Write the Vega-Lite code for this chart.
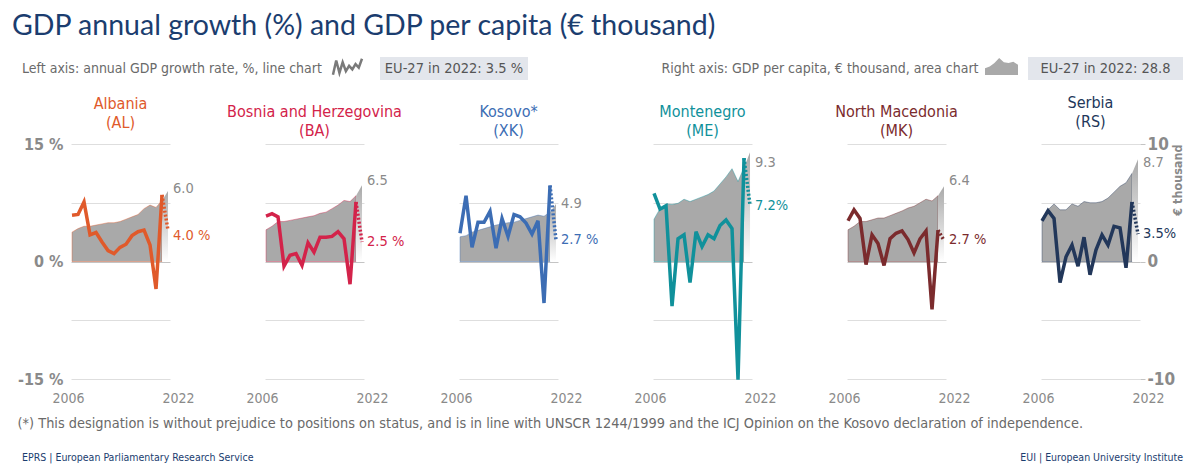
{
  "$schema": "https://vega.github.io/schema/vega-lite/v6.json",
  "padding": {"left": 12, "top": 12, "right": 6, "bottom": 4},
  "title": {"text": "GDP annual growth (%) and GDP per capita (€ thousand)", "anchor": "start", "fontSize": 28.5, "color": "#1b3d6f", "fontWeight": "normal", "font": "Lato", "dx": -59, "offset": 13},
  "config": {
    "font": "DejaVu Sans Condensed",
    "view": {"stroke": null},
    "text": {"font": "DejaVu Sans Condensed"},
    "axis": {"labelFont": "DejaVu Sans Condensed", "titleFont": "DejaVu Sans Condensed"},
    "title": {"font": "DejaVu Sans Condensed", "fontWeight": "normal", "fontSize": 16, "lineHeight": 19.5, "offset": 5, "frame": "group"}
  },
  "datasets": {
    "wig": [{"i":0,"v":1},{"i":1,"v":9},{"i":2,"v":2},{"i":3,"v":8},{"i":4,"v":3},{"i":5,"v":6},{"i":6,"v":4},{"i":7,"v":7},{"i":8,"v":5},{"i":9,"v":10}],
    "mnt": [{"i":0,"v":4},{"i":1,"v":5},{"i":2,"v":7},{"i":3,"v":10},{"i":4,"v":7.5},{"i":5,"v":7},{"i":6,"v":7.8},{"i":7,"v":6}],
    "gdp": [
      {"c":"AL","yr":2006,"g":5.9,"p":2.5},{"c":"AL","yr":2007,"g":6.0,"p":2.8},{"c":"AL","yr":2008,"g":7.6,"p":3.0},{"c":"AL","yr":2009,"g":3.4,"p":3.0},{"c":"AL","yr":2010,"g":3.7,"p":3.1},{"c":"AL","yr":2011,"g":2.5,"p":3.2},{"c":"AL","yr":2012,"g":1.4,"p":3.3},{"c":"AL","yr":2013,"g":1.0,"p":3.3},{"c":"AL","yr":2014,"g":1.8,"p":3.4},{"c":"AL","yr":2015,"g":2.2,"p":3.6},{"c":"AL","yr":2016,"g":3.3,"p":3.8},{"c":"AL","yr":2017,"g":3.8,"p":4.0},{"c":"AL","yr":2018,"g":4.0,"p":4.5},{"c":"AL","yr":2019,"g":2.1,"p":4.8},{"c":"AL","yr":2020,"g":-3.5,"p":4.6},{"c":"AL","yr":2021,"g":8.5,"p":5.2},{"c":"AL","yr":2022,"g":4.0,"p":6.0,"gl":"4.0 %","pl":"6.0"},
      {"c":"BA","yr":2006,"g":5.8,"p":2.7},{"c":"BA","yr":2007,"g":6.1,"p":3.0},{"c":"BA","yr":2008,"g":5.7,"p":3.4},{"c":"BA","yr":2009,"g":-0.6,"p":3.4},{"c":"BA","yr":2010,"g":0.8,"p":3.5},{"c":"BA","yr":2011,"g":1.0,"p":3.6},{"c":"BA","yr":2012,"g":-0.5,"p":3.7},{"c":"BA","yr":2013,"g":2.4,"p":3.8},{"c":"BA","yr":2014,"g":1.2,"p":3.9},{"c":"BA","yr":2015,"g":3.1,"p":4.1},{"c":"BA","yr":2016,"g":3.1,"p":4.2},{"c":"BA","yr":2017,"g":3.2,"p":4.5},{"c":"BA","yr":2018,"g":3.8,"p":4.8},{"c":"BA","yr":2019,"g":2.9,"p":5.2},{"c":"BA","yr":2020,"g":-2.9,"p":5.1},{"c":"BA","yr":2021,"g":7.6,"p":5.6},{"c":"BA","yr":2022,"g":2.5,"p":6.5,"gl":"2.5 %","pl":"6.5"},
      {"c":"XK","yr":2006,"g":3.6,"p":2.1},{"c":"XK","yr":2007,"g":8.4,"p":2.2},{"c":"XK","yr":2008,"g":1.8,"p":2.5},{"c":"XK","yr":2009,"g":5.0,"p":2.65},{"c":"XK","yr":2010,"g":5.0,"p":2.8},{"c":"XK","yr":2011,"g":6.4,"p":2.95},{"c":"XK","yr":2012,"g":1.7,"p":3.1},{"c":"XK","yr":2013,"g":5.5,"p":3.2},{"c":"XK","yr":2014,"g":3.2,"p":3.3},{"c":"XK","yr":2015,"g":6.0,"p":3.35},{"c":"XK","yr":2016,"g":5.7,"p":3.5},{"c":"XK","yr":2017,"g":4.9,"p":3.65},{"c":"XK","yr":2018,"g":3.5,"p":3.8},{"c":"XK","yr":2019,"g":5.2,"p":3.95},{"c":"XK","yr":2020,"g":-5.3,"p":3.85},{"c":"XK","yr":2021,"g":9.7,"p":4.2},{"c":"XK","yr":2022,"g":2.7,"p":4.9,"gl":"2.7 %","pl":"4.9"},
      {"c":"ME","yr":2006,"g":8.7,"p":3.6},{"c":"ME","yr":2007,"g":6.7,"p":4.5},{"c":"ME","yr":2008,"g":7.1,"p":4.9},{"c":"ME","yr":2009,"g":-5.7,"p":4.85},{"c":"ME","yr":2010,"g":2.9,"p":4.95},{"c":"ME","yr":2011,"g":3.4,"p":5.3},{"c":"ME","yr":2012,"g":-2.7,"p":5.1},{"c":"ME","yr":2013,"g":3.8,"p":5.3},{"c":"ME","yr":2014,"g":1.9,"p":5.5},{"c":"ME","yr":2015,"g":3.4,"p":5.7},{"c":"ME","yr":2016,"g":2.9,"p":6.0},{"c":"ME","yr":2017,"g":4.6,"p":6.6},{"c":"ME","yr":2018,"g":5.3,"p":7.2},{"c":"ME","yr":2019,"g":4.2,"p":7.9},{"c":"ME","yr":2020,"g":-15.1,"p":6.8},{"c":"ME","yr":2021,"g":13.2,"p":8.0},{"c":"ME","yr":2022,"g":7.2,"p":9.3,"gl":"7.2%","pl":"9.3"},
      {"c":"MK","yr":2006,"g":5.2,"p":2.7},{"c":"MK","yr":2007,"g":6.6,"p":3.0},{"c":"MK","yr":2008,"g":5.5,"p":3.4},{"c":"MK","yr":2009,"g":-0.4,"p":3.4},{"c":"MK","yr":2010,"g":3.4,"p":3.55},{"c":"MK","yr":2011,"g":2.3,"p":3.7},{"c":"MK","yr":2012,"g":-0.5,"p":3.7},{"c":"MK","yr":2013,"g":2.9,"p":3.9},{"c":"MK","yr":2014,"g":3.6,"p":4.1},{"c":"MK","yr":2015,"g":3.9,"p":4.3},{"c":"MK","yr":2016,"g":2.8,"p":4.55},{"c":"MK","yr":2017,"g":1.1,"p":4.7},{"c":"MK","yr":2018,"g":2.9,"p":5.0},{"c":"MK","yr":2019,"g":3.9,"p":5.3},{"c":"MK","yr":2020,"g":-6.1,"p":5.15},{"c":"MK","yr":2021,"g":4.0,"p":5.6},{"c":"MK","yr":2022,"g":2.7,"p":6.4,"gl":"2.7 %","pl":"6.4"},
      {"c":"RS","yr":2006,"g":5.2,"p":3.65},{"c":"RS","yr":2007,"g":6.5,"p":4.4},{"c":"RS","yr":2008,"g":5.5,"p":4.9},{"c":"RS","yr":2009,"g":-2.7,"p":4.4},{"c":"RS","yr":2010,"g":0.6,"p":4.4},{"c":"RS","yr":2011,"g":2.1,"p":4.9},{"c":"RS","yr":2012,"g":-0.6,"p":4.7},{"c":"RS","yr":2013,"g":3.1,"p":5.1},{"c":"RS","yr":2014,"g":-1.7,"p":5.0},{"c":"RS","yr":2015,"g":1.5,"p":5.0},{"c":"RS","yr":2016,"g":3.4,"p":5.1},{"c":"RS","yr":2017,"g":2.1,"p":5.4},{"c":"RS","yr":2018,"g":4.5,"p":5.9},{"c":"RS","yr":2019,"g":4.3,"p":6.4},{"c":"RS","yr":2020,"g":-0.8,"p":6.7},{"c":"RS","yr":2021,"g":7.6,"p":7.5},{"c":"RS","yr":2022,"g":3.5,"p":8.7,"gl":"3.5%","pl":"8.7"}
    ]
  },
  "vconcat": [
    {
      "hconcat": [
        {"width": 202, "height": 23, "data": {"values": [{"t": "Left axis: annual GDP growth rate, %, line chart"}]}, "mark": {"type": "text", "fontSize": 14, "color": "#6a6a6a"}, "encoding": {"text": {"field": "t"}}},
        {"width": 107, "height": 23, "data": {"name": "wig"}, "mark": {"type": "line", "color": "#7a7a7a", "strokeWidth": 2.5}, "encoding": {"x": {"field": "i", "type": "quantitative", "scale": {"domain": [-18.62, 14.59], "nice": false, "zero": false}, "axis": null}, "y": {"field": "v", "type": "quantitative", "scale": {"domain": [-2, 11], "nice": false}, "axis": null}}},
        {"width": 148, "height": 23, "view": {"fill": "#e3e6ec", "stroke": null}, "data": {"values": [{"t": "EU-27 in 2022: 3.5 %"}]}, "mark": {"type": "text", "fontSize": 14.5, "color": "#555555"}, "encoding": {"text": {"field": "t"}}},
        {"width": 127, "height": 23, "data": {"values": [{"t": ""}]}, "mark": {"type": "text"}, "encoding": {"text": {"field": "t"}}},
        {"width": 330, "height": 23, "data": {"values": [{"t": "Right axis: GDP per capita, € thousand, area chart"}]}, "mark": {"type": "text", "fontSize": 14, "color": "#6a6a6a"}, "encoding": {"text": {"field": "t"}}},
        {"width": 43, "height": 23, "data": {"name": "mnt"}, "mark": {"type": "area", "color": "#a9a9a9"}, "encoding": {"x": {"field": "i", "type": "quantitative", "scale": {"domain": [0, 9.12], "nice": false}, "axis": null}, "y": {"field": "v", "type": "quantitative", "scale": {"domain": [-2.94, 10.59], "nice": false}, "axis": null}}},
        {"width": 155, "height": 23, "view": {"fill": "#e3e6ec", "stroke": null}, "data": {"values": [{"t": "EU-27 in 2022: 28.8"}]}, "mark": {"type": "text", "fontSize": 14.5, "color": "#555555"}, "encoding": {"text": {"field": "t"}}}
      ],
      "spacing": 0,
      "bounds": "flush"
    },
    {
      "title": {"text": "(*) This designation is without prejudice to positions on status, and is in line with UNSCR 1244/1999 and the ICJ Opinion on the Kosovo declaration of independence.", "orient": "bottom", "anchor": "start", "frame": "bounds", "fontSize": 14.4, "lineHeight": 16, "color": "#6a6a6a", "offset": 12},
      "spacing": 95,
      "bounds": "flush",
      "hconcat": [
        {
          "width": 99, "height": 235,
          "title": {"text": ["Albania", "(AL)"], "color": "#e05a2b"},
          "data": {"name": "gdp"},
          "transform": [{"filter": "datum.c == 'AL'"}],
          "encoding": {"x": {"field": "yr", "type": "quantitative", "scale": {"domain": [2005.83, 2022.33], "nice": false, "zero": false}, "axis": {"values": [2006, 2022], "format": "d", "labelFontSize": 14, "labelColor": "#8a8a8a", "ticks": false, "domain": false, "grid": false, "title": null, "labelPadding": 12, "labelOffset": {"condition": {"test": "datum.value == 2022", "value": 10}, "value": -4}}}},
          "layer": [
            {"transform": [{"filter": "datum.yr <= 2021"}], "mark": {"type": "area", "fill": "#a9a9a9", "stroke": "#e05a2b", "strokeWidth": 0.8, "strokeOpacity": 0.5}, "encoding": {"y": {"field": "p", "type": "quantitative", "scale": {"domain": [-10, 10], "nice": false}, "axis": null}}},
            {"transform": [{"filter": "datum.yr >= 2021"}], "mark": {"type": "area", "fill": {"gradient": "linear", "x1": 0, "y1": 0, "x2": 0, "y2": 1, "stops": [{"offset": 0, "color": "#a9a9a9"}, {"offset": 1, "color": "#ffffff"}]}}, "encoding": {"y": {"field": "p", "type": "quantitative", "scale": {"domain": [-10, 10], "nice": false}, "axis": null}}},
            {"transform": [{"filter": "datum.yr <= 2021"}], "mark": {"type": "line", "color": "#e05a2b", "strokeWidth": 3.5}, "encoding": {"y": {"field": "g", "type": "quantitative", "scale": {"domain": [-15, 15], "nice": false}, "axis": {"orient": "left", "values": [-15, -7.5, 0, 7.5, 15], "labelExpr": "datum.value == 15 ? '15 %' : datum.value == 0 ? '0 %' : datum.value == -15 ? '-15 %' : ''", "grid": true, "gridColor": {"condition": {"test": "datum.value == 0", "value": "#c4c4c4"}, "value": "#dedede"}, "ticks": false, "domain": false, "labelFontSize": 16, "labelFontWeight": "bold", "labelColor": "#8a8a8a", "labelPadding": 8, "title": null}}}},
            {"transform": [{"filter": "datum.yr >= 2021"}], "mark": {"type": "line", "color": "#e05a2b", "strokeWidth": 3.5, "strokeDash": [2, 2]}, "encoding": {"y": {"field": "g", "type": "quantitative", "scale": {"domain": [-15, 15], "nice": false}, "axis": null}}},
            {"transform": [{"filter": "datum.yr == 2022"}], "mark": {"type": "text", "align": "left", "dx": 5, "dy": 6, "color": "#e05a2b", "fontSize": 14.5}, "encoding": {"y": {"field": "g", "type": "quantitative", "scale": {"domain": [-15, 15], "nice": false}, "axis": null}, "text": {"field": "gl"}}},
            {"transform": [{"filter": "datum.yr == 2022"}], "mark": {"type": "text", "align": "left", "dx": 5, "dy": -2, "color": "#8a8a8a", "fontSize": 14.5}, "encoding": {"y": {"field": "p", "type": "quantitative", "scale": {"domain": [-10, 10], "nice": false}, "axis": null}, "text": {"field": "pl"}}}
          ],
          "resolve": {"scale": {"y": "independent"}}
        },
        {
          "width": 99, "height": 235,
          "title": {"text": ["Bosnia and Herzegovina", "(BA)"], "color": "#d3234a"},
          "data": {"name": "gdp"},
          "transform": [{"filter": "datum.c == 'BA'"}],
          "encoding": {"x": {"field": "yr", "type": "quantitative", "scale": {"domain": [2005.83, 2022.33], "nice": false, "zero": false}, "axis": {"values": [2006, 2022], "format": "d", "labelFontSize": 14, "labelColor": "#8a8a8a", "ticks": false, "domain": false, "grid": false, "title": null, "labelPadding": 12, "labelOffset": {"condition": {"test": "datum.value == 2022", "value": 10}, "value": -4}}}},
          "layer": [
            {"transform": [{"filter": "datum.yr <= 2021"}], "mark": {"type": "area", "fill": "#a9a9a9", "stroke": "#d3234a", "strokeWidth": 0.8, "strokeOpacity": 0.5}, "encoding": {"y": {"field": "p", "type": "quantitative", "scale": {"domain": [-10, 10], "nice": false}, "axis": null}}},
            {"transform": [{"filter": "datum.yr >= 2021"}], "mark": {"type": "area", "fill": {"gradient": "linear", "x1": 0, "y1": 0, "x2": 0, "y2": 1, "stops": [{"offset": 0, "color": "#a9a9a9"}, {"offset": 1, "color": "#ffffff"}]}}, "encoding": {"y": {"field": "p", "type": "quantitative", "scale": {"domain": [-10, 10], "nice": false}, "axis": null}}},
            {"transform": [{"filter": "datum.yr <= 2021"}], "mark": {"type": "line", "color": "#d3234a", "strokeWidth": 3.5}, "encoding": {"y": {"field": "g", "type": "quantitative", "scale": {"domain": [-15, 15], "nice": false}, "axis": {"orient": "left", "values": [-15, -7.5, 0, 7.5, 15], "labels": false, "grid": true, "gridColor": {"condition": {"test": "datum.value == 0", "value": "#c4c4c4"}, "value": "#dedede"}, "ticks": false, "domain": false, "title": null}}}},
            {"transform": [{"filter": "datum.yr >= 2021"}], "mark": {"type": "line", "color": "#d3234a", "strokeWidth": 3.5, "strokeDash": [2, 2]}, "encoding": {"y": {"field": "g", "type": "quantitative", "scale": {"domain": [-15, 15], "nice": false}, "axis": null}}},
            {"transform": [{"filter": "datum.yr == 2022"}], "mark": {"type": "text", "align": "left", "dx": 5, "dy": 0, "color": "#d3234a", "fontSize": 14.5}, "encoding": {"y": {"field": "g", "type": "quantitative", "scale": {"domain": [-15, 15], "nice": false}, "axis": null}, "text": {"field": "gl"}}},
            {"transform": [{"filter": "datum.yr == 2022"}], "mark": {"type": "text", "align": "left", "dx": 5, "dy": -4, "color": "#8a8a8a", "fontSize": 14.5}, "encoding": {"y": {"field": "p", "type": "quantitative", "scale": {"domain": [-10, 10], "nice": false}, "axis": null}, "text": {"field": "pl"}}}
          ],
          "resolve": {"scale": {"y": "independent"}}
        },
        {
          "width": 99, "height": 235,
          "title": {"text": ["Kosovo*", "(XK)"], "color": "#3c6db4"},
          "data": {"name": "gdp"},
          "transform": [{"filter": "datum.c == 'XK'"}],
          "encoding": {"x": {"field": "yr", "type": "quantitative", "scale": {"domain": [2005.83, 2022.33], "nice": false, "zero": false}, "axis": {"values": [2006, 2022], "format": "d", "labelFontSize": 14, "labelColor": "#8a8a8a", "ticks": false, "domain": false, "grid": false, "title": null, "labelPadding": 12, "labelOffset": {"condition": {"test": "datum.value == 2022", "value": 10}, "value": -4}}}},
          "layer": [
            {"transform": [{"filter": "datum.yr <= 2021"}], "mark": {"type": "area", "fill": "#a9a9a9", "stroke": "#3c6db4", "strokeWidth": 0.8, "strokeOpacity": 0.5}, "encoding": {"y": {"field": "p", "type": "quantitative", "scale": {"domain": [-10, 10], "nice": false}, "axis": null}}},
            {"transform": [{"filter": "datum.yr >= 2021"}], "mark": {"type": "area", "fill": {"gradient": "linear", "x1": 0, "y1": 0, "x2": 0, "y2": 1, "stops": [{"offset": 0, "color": "#a9a9a9"}, {"offset": 1, "color": "#ffffff"}]}}, "encoding": {"y": {"field": "p", "type": "quantitative", "scale": {"domain": [-10, 10], "nice": false}, "axis": null}}},
            {"transform": [{"filter": "datum.yr <= 2021"}], "mark": {"type": "line", "color": "#3c6db4", "strokeWidth": 3.5}, "encoding": {"y": {"field": "g", "type": "quantitative", "scale": {"domain": [-15, 15], "nice": false}, "axis": {"orient": "left", "values": [-15, -7.5, 0, 7.5, 15], "labels": false, "grid": true, "gridColor": {"condition": {"test": "datum.value == 0", "value": "#c4c4c4"}, "value": "#dedede"}, "ticks": false, "domain": false, "title": null}}}},
            {"transform": [{"filter": "datum.yr >= 2021"}], "mark": {"type": "line", "color": "#3c6db4", "strokeWidth": 3.5, "strokeDash": [2, 2]}, "encoding": {"y": {"field": "g", "type": "quantitative", "scale": {"domain": [-15, 15], "nice": false}, "axis": null}}},
            {"transform": [{"filter": "datum.yr == 2022"}], "mark": {"type": "text", "align": "left", "dx": 5, "dy": 0, "color": "#3c6db4", "fontSize": 14.5}, "encoding": {"y": {"field": "g", "type": "quantitative", "scale": {"domain": [-15, 15], "nice": false}, "axis": null}, "text": {"field": "gl"}}},
            {"transform": [{"filter": "datum.yr == 2022"}], "mark": {"type": "text", "align": "left", "dx": 5, "dy": 0, "color": "#8a8a8a", "fontSize": 14.5}, "encoding": {"y": {"field": "p", "type": "quantitative", "scale": {"domain": [-10, 10], "nice": false}, "axis": null}, "text": {"field": "pl"}}}
          ],
          "resolve": {"scale": {"y": "independent"}}
        },
        {
          "width": 99, "height": 235,
          "title": {"text": ["Montenegro", "(ME)"], "color": "#10919b"},
          "data": {"name": "gdp"},
          "transform": [{"filter": "datum.c == 'ME'"}],
          "encoding": {"x": {"field": "yr", "type": "quantitative", "scale": {"domain": [2005.83, 2022.33], "nice": false, "zero": false}, "axis": {"values": [2006, 2022], "format": "d", "labelFontSize": 14, "labelColor": "#8a8a8a", "ticks": false, "domain": false, "grid": false, "title": null, "labelPadding": 12, "labelOffset": {"condition": {"test": "datum.value == 2022", "value": 10}, "value": -4}}}},
          "layer": [
            {"transform": [{"filter": "datum.yr <= 2021"}], "mark": {"type": "area", "fill": "#a9a9a9", "stroke": "#10919b", "strokeWidth": 0.8, "strokeOpacity": 0.5}, "encoding": {"y": {"field": "p", "type": "quantitative", "scale": {"domain": [-10, 10], "nice": false}, "axis": null}}},
            {"transform": [{"filter": "datum.yr >= 2021"}], "mark": {"type": "area", "fill": {"gradient": "linear", "x1": 0, "y1": 0, "x2": 0, "y2": 1, "stops": [{"offset": 0, "color": "#a9a9a9"}, {"offset": 1, "color": "#ffffff"}]}}, "encoding": {"y": {"field": "p", "type": "quantitative", "scale": {"domain": [-10, 10], "nice": false}, "axis": null}}},
            {"transform": [{"filter": "datum.yr <= 2021"}], "mark": {"type": "line", "color": "#10919b", "strokeWidth": 3.5}, "encoding": {"y": {"field": "g", "type": "quantitative", "scale": {"domain": [-15, 15], "nice": false}, "axis": {"orient": "left", "values": [-15, -7.5, 0, 7.5, 15], "labels": false, "grid": true, "gridColor": {"condition": {"test": "datum.value == 0", "value": "#c4c4c4"}, "value": "#dedede"}, "ticks": false, "domain": false, "title": null}}}},
            {"transform": [{"filter": "datum.yr >= 2021"}], "mark": {"type": "line", "color": "#10919b", "strokeWidth": 3.5, "strokeDash": [2, 2]}, "encoding": {"y": {"field": "g", "type": "quantitative", "scale": {"domain": [-15, 15], "nice": false}, "axis": null}}},
            {"transform": [{"filter": "datum.yr == 2022"}], "mark": {"type": "text", "align": "left", "dx": 5, "dy": 1, "color": "#10919b", "fontSize": 14.5}, "encoding": {"y": {"field": "g", "type": "quantitative", "scale": {"domain": [-15, 15], "nice": false}, "axis": null}, "text": {"field": "gl"}}},
            {"transform": [{"filter": "datum.yr == 2022"}], "mark": {"type": "text", "align": "left", "dx": 5, "dy": 11, "color": "#8a8a8a", "fontSize": 14.5}, "encoding": {"y": {"field": "p", "type": "quantitative", "scale": {"domain": [-10, 10], "nice": false}, "axis": null}, "text": {"field": "pl"}}}
          ],
          "resolve": {"scale": {"y": "independent"}}
        },
        {
          "width": 99, "height": 235,
          "title": {"text": ["North Macedonia", "(MK)"], "color": "#7b2b2d"},
          "data": {"name": "gdp"},
          "transform": [{"filter": "datum.c == 'MK'"}],
          "encoding": {"x": {"field": "yr", "type": "quantitative", "scale": {"domain": [2005.83, 2022.33], "nice": false, "zero": false}, "axis": {"values": [2006, 2022], "format": "d", "labelFontSize": 14, "labelColor": "#8a8a8a", "ticks": false, "domain": false, "grid": false, "title": null, "labelPadding": 12, "labelOffset": {"condition": {"test": "datum.value == 2022", "value": 10}, "value": -4}}}},
          "layer": [
            {"transform": [{"filter": "datum.yr <= 2021"}], "mark": {"type": "area", "fill": "#a9a9a9", "stroke": "#7b2b2d", "strokeWidth": 0.8, "strokeOpacity": 0.5}, "encoding": {"y": {"field": "p", "type": "quantitative", "scale": {"domain": [-10, 10], "nice": false}, "axis": null}}},
            {"transform": [{"filter": "datum.yr >= 2021"}], "mark": {"type": "area", "fill": {"gradient": "linear", "x1": 0, "y1": 0, "x2": 0, "y2": 1, "stops": [{"offset": 0, "color": "#a9a9a9"}, {"offset": 1, "color": "#ffffff"}]}}, "encoding": {"y": {"field": "p", "type": "quantitative", "scale": {"domain": [-10, 10], "nice": false}, "axis": null}}},
            {"transform": [{"filter": "datum.yr <= 2021"}], "mark": {"type": "line", "color": "#7b2b2d", "strokeWidth": 3.5}, "encoding": {"y": {"field": "g", "type": "quantitative", "scale": {"domain": [-15, 15], "nice": false}, "axis": {"orient": "left", "values": [-15, -7.5, 0, 7.5, 15], "labels": false, "grid": true, "gridColor": {"condition": {"test": "datum.value == 0", "value": "#c4c4c4"}, "value": "#dedede"}, "ticks": false, "domain": false, "title": null}}}},
            {"transform": [{"filter": "datum.yr >= 2021"}], "mark": {"type": "line", "color": "#7b2b2d", "strokeWidth": 3.5, "strokeDash": [2, 2]}, "encoding": {"y": {"field": "g", "type": "quantitative", "scale": {"domain": [-15, 15], "nice": false}, "axis": null}}},
            {"transform": [{"filter": "datum.yr == 2022"}], "mark": {"type": "text", "align": "left", "dx": 5, "dy": 0, "color": "#7b2b2d", "fontSize": 14.5}, "encoding": {"y": {"field": "g", "type": "quantitative", "scale": {"domain": [-15, 15], "nice": false}, "axis": null}, "text": {"field": "gl"}}},
            {"transform": [{"filter": "datum.yr == 2022"}], "mark": {"type": "text", "align": "left", "dx": 5, "dy": -5, "color": "#8a8a8a", "fontSize": 14.5}, "encoding": {"y": {"field": "p", "type": "quantitative", "scale": {"domain": [-10, 10], "nice": false}, "axis": null}, "text": {"field": "pl"}}}
          ],
          "resolve": {"scale": {"y": "independent"}}
        },
        {
          "width": 99, "height": 235,
          "title": {"text": ["Serbia", "(RS)"], "color": "#22375a"},
          "data": {"name": "gdp"},
          "transform": [{"filter": "datum.c == 'RS'"}],
          "encoding": {"x": {"field": "yr", "type": "quantitative", "scale": {"domain": [2005.83, 2022.33], "nice": false, "zero": false}, "axis": {"values": [2006, 2022], "format": "d", "labelFontSize": 14, "labelColor": "#8a8a8a", "ticks": false, "domain": false, "grid": false, "title": null, "labelPadding": 12, "labelOffset": {"condition": {"test": "datum.value == 2022", "value": 10}, "value": -4}}}},
          "layer": [
            {"transform": [{"filter": "datum.yr <= 2021"}], "mark": {"type": "area", "fill": "#a9a9a9", "stroke": "#22375a", "strokeWidth": 0.8, "strokeOpacity": 0.5}, "encoding": {"y": {"field": "p", "type": "quantitative", "scale": {"domain": [-10, 10], "nice": false}, "axis": {"orient": "right", "values": [-10, 0, 10], "labelExpr": "datum.value < 0 ? '-10' : datum.label", "grid": false, "domain": false, "ticks": true, "tickSize": 5, "tickColor": "#c4c4c4", "labelFontSize": 17, "labelFontWeight": "bold", "labelColor": "#8a8a8a", "labelPadding": 2, "title": "€ thousand", "titleAngle": 270, "titleAnchor": "end", "titleFontSize": 12.5, "titleFontWeight": "bold", "titleColor": "#8a8a8a", "titlePadding": 10}}}},
            {"transform": [{"filter": "datum.yr >= 2021"}], "mark": {"type": "area", "fill": {"gradient": "linear", "x1": 0, "y1": 0, "x2": 0, "y2": 1, "stops": [{"offset": 0, "color": "#a9a9a9"}, {"offset": 1, "color": "#ffffff"}]}}, "encoding": {"y": {"field": "p", "type": "quantitative", "scale": {"domain": [-10, 10], "nice": false}, "axis": null}}},
            {"transform": [{"filter": "datum.yr <= 2021"}], "mark": {"type": "line", "color": "#22375a", "strokeWidth": 3.5}, "encoding": {"y": {"field": "g", "type": "quantitative", "scale": {"domain": [-15, 15], "nice": false}, "axis": {"orient": "left", "values": [-15, -7.5, 0, 7.5, 15], "labels": false, "grid": true, "gridColor": {"condition": {"test": "datum.value == 0", "value": "#c4c4c4"}, "value": "#dedede"}, "ticks": false, "domain": false, "title": null}}}},
            {"transform": [{"filter": "datum.yr >= 2021"}], "mark": {"type": "line", "color": "#22375a", "strokeWidth": 3.5, "strokeDash": [2, 2]}, "encoding": {"y": {"field": "g", "type": "quantitative", "scale": {"domain": [-15, 15], "nice": false}, "axis": null}}},
            {"transform": [{"filter": "datum.yr == 2022"}], "mark": {"type": "text", "align": "left", "dx": 5, "dy": 0, "color": "#22375a", "fontSize": 14.5}, "encoding": {"y": {"field": "g", "type": "quantitative", "scale": {"domain": [-15, 15], "nice": false}, "axis": null}, "text": {"field": "gl"}}},
            {"transform": [{"filter": "datum.yr == 2022"}], "mark": {"type": "text", "align": "left", "dx": 5, "dy": 4, "color": "#8a8a8a", "fontSize": 14.5}, "encoding": {"y": {"field": "p", "type": "quantitative", "scale": {"domain": [-10, 10], "nice": false}, "axis": null}, "text": {"field": "pl"}}}
          ],
          "resolve": {"scale": {"y": "independent"}}
        }
      ]
    },
    {
      "hconcat": [
        {"width": 556, "height": 1, "title": {"text": "EPRS | European Parliamentary Research Service", "orient": "bottom", "anchor": "start", "fontSize": 10.5, "lineHeight": 11, "color": "#1b3d6f", "offset": -4, "dx": -49}, "data": {"values": [{"t": ""}]}, "mark": {"type": "text"}, "encoding": {"text": {"field": "t"}}},
        {"width": 556, "height": 1, "title": {"text": "EUI | European University Institute", "orient": "bottom", "anchor": "end", "fontSize": 10.5, "lineHeight": 11, "color": "#1b3d6f", "offset": -4}, "data": {"values": [{"t": ""}]}, "mark": {"type": "text"}, "encoding": {"text": {"field": "t"}}}
      ],
      "spacing": 0,
      "bounds": "flush"
    }
  ],
  "spacing": 14
}
